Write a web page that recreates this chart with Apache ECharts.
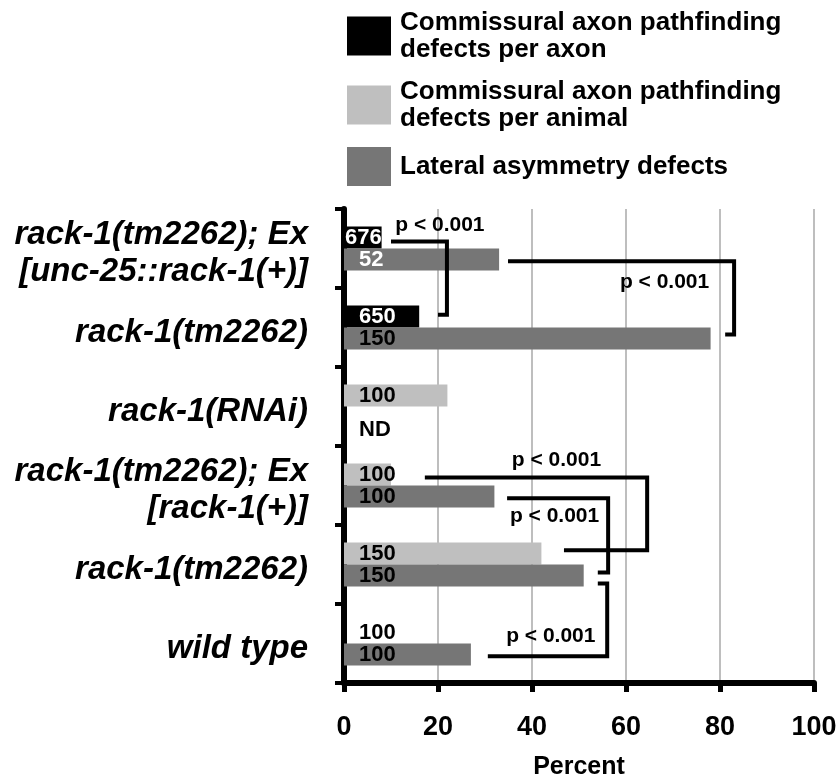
<!DOCTYPE html>
<html><head><meta charset="utf-8">
<script src="https://cdn.jsdelivr.net/npm/echarts@6/dist/echarts.min.js"></script>
<style>html,body{margin:0;padding:0;background:#fff}#c{width:840px;height:777px}</style>
</head><body><div id="c"></div>
<script>
// categories listed bottom-to-top (ECharts category y axis starts at the bottom)
const categories = ['wild type', 'rack-1(tm2262)', 'rack-1(tm2262); Ex\n[rack-1(+)]', 'rack-1(RNAi)', 'rack-1(tm2262)', 'rack-1(tm2262); Ex\n[unc-25::rack-1(+)]'];
const seriesNames = ['Commissural axon pathfinding\ndefects per axon', 'Commissural axon pathfinding\ndefects per animal', 'Lateral asymmetry defects'];
const perAxon = ['-', '-', '-', '-', 16, 8];
const perAxonN = ['', '', '', '', '650', '676'];
const perAnimal = [0, 42, 10, 22, '-', '-'];
const perAnimalN = ['100', '150', '100', '100', '', ''];
const lateral = [27, 51, 32, 0, 78, 33];
const lateralN = ['100', '150', '100', 'ND', '150', '52'];
const xTicks = [0, 20, 40, 60, 80, 100];
const axisName = 'Percent';
const pLabel = 'p < 0.001';
// significance brackets in data units (x = percent, y = category index)
const brackets = [
  { path: [[10.0, 5.09], [21.9, 5.09], [21.9, 4.16], [20.0, 4.16]], text: [10.9, 5.29] },
  { path: [[34.9, 4.84], [83.0, 4.84], [83.0, 3.91], [81.1, 3.91]], text: [58.7, 4.57] },
  { path: [[17.2, 2.10], [64.5, 2.10], [64.5, 1.18], [46.8, 1.18]], text: [35.7, 2.32] },
  { path: [[34.7, 1.84], [56.2, 1.84], [56.2, 0.90], [54.0, 0.90]], text: [35.3, 1.61] },
  { path: [[54.0, 0.76], [56.0, 0.76], [56.0, -0.16], [30.6, -0.16]], text: [34.5, 0.09] }
];

const FONT = '"Liberation Sans", Arial, sans-serif';
const ids = categories.map((_, i) => 'c' + i);
const chart = echarts.init(document.getElementById('c'), null, { renderer: 'canvas' });

const labelBase = { show: true, position: 'insideLeft', distance: 15, fontSize: 22, fontWeight: 'bold', fontFamily: FONT };

const option = {
  animation: false,
  backgroundColor: '#fff',
  legend: {
    data: seriesNames, orient: 'vertical', left: 347, top: 9, padding: 0,
    itemWidth: 44, itemHeight: 39, itemGap: 15, icon: 'rect', selectedMode: false,
    textStyle: { fontSize: 26, fontWeight: 'bold', color: '#000', lineHeight: 27, fontFamily: FONT, padding: [0, 0, 0, 4] }
  },
  grid: { left: 344, right: 26, top: 209, bottom: 94, containLabel: false, outerBoundsMode: 'none' },
  xAxis: {
    type: 'value', min: xTicks[0], max: xTicks[xTicks.length - 1], interval: xTicks[1] - xTicks[0],
    axisLine: { show: true, lineStyle: { color: '#000', width: 6 } },
    axisTick: { show: true, length: 9, lineStyle: { color: '#000', width: 5 } },
    axisLabel: { fontSize: 27, fontWeight: 'bold', color: '#000', fontFamily: FONT, margin: 31 },
    splitLine: { show: true, lineStyle: { color: '#a8a8a8', width: 1.5 } },
    name: axisName, nameLocation: 'middle', nameGap: 72,
    nameTextStyle: { fontSize: 25, fontWeight: 'bold', color: '#000', fontFamily: FONT }
  },
  yAxis: {
    type: 'category', data: ids,
    axisLine: { show: true, lineStyle: { color: '#000', width: 6 } },
    axisTick: { show: true, length: 9, lineStyle: { color: '#000', width: 4 } },
    axisLabel: {
      formatter: (v, i) => categories[i].split('\n').map(s => '{t|' + s + '}').join('\n'),
      color: '#000', margin: 36, align: 'right', verticalAlign: 'middle',
      rich: { t: { fontSize: 33, fontWeight: 'bold', fontStyle: 'italic', color: '#000', fontFamily: FONT, lineHeight: 37, padding: [10, 0, 0, 0], align: 'right' } }
    },
    splitLine: { show: false }
  },
  series: [
    {
      name: seriesNames[0], type: 'bar', stack: 'top', barWidth: 22, barGap: '0%',
      itemStyle: { color: '#000' },
      label: Object.assign({}, labelBase, { color: '#fff', formatter: p => perAxonN[p.dataIndex] }),
      data: perAxon.map((v, i) => i === 5 ? { value: v, label: { distance: 1 } } : v)
    },
    {
      name: seriesNames[1], type: 'bar', stack: 'top', barWidth: 22, barGap: '0%',
      itemStyle: { color: '#bfbfbf' },
      label: Object.assign({}, labelBase, { color: '#000', formatter: p => perAnimalN[p.dataIndex] }),
      data: perAnimal
    },
    {
      name: seriesNames[2], type: 'bar', barWidth: 22, barGap: '0%',
      itemStyle: { color: '#767676' },
      label: Object.assign({}, labelBase, { color: '#000', formatter: p => lateralN[p.dataIndex] }),
      data: lateral.map((v, i) => i === 5 ? { value: v, label: { color: '#fff' } } : (i === 3 ? { value: v, label: { offset: [0, 12] } } : v))
    },
    {
      type: 'custom', coordinateSystem: 'cartesian2d', silent: true, z: 10, clip: false,
      data: brackets.map(() => [0, ids[0]]),
      renderItem: function (params, api) {
        const b = brackets[params.dataIndex];
        const band = api.size([0, 1])[1];
        const base = api.coord([0, ids[0]])[1];
        const P = (pt) => [api.coord([pt[0], ids[0]])[0], base - pt[1] * band];
        const t = P(b.text);
        return {
          type: 'group', children: [
            { type: 'polyline', shape: { points: b.path.map(P) }, style: { stroke: '#000', lineWidth: 4, fill: null, lineJoin: 'miter' } },
            { type: 'text', x: t[0], y: t[1], style: { text: pLabel, font: 'bold 21px ' + FONT, fill: '#000', align: 'left', verticalAlign: 'middle' } }
          ]
        };
      }
    }
  ]
};
chart.setOption(option);
</script>
</body></html>
